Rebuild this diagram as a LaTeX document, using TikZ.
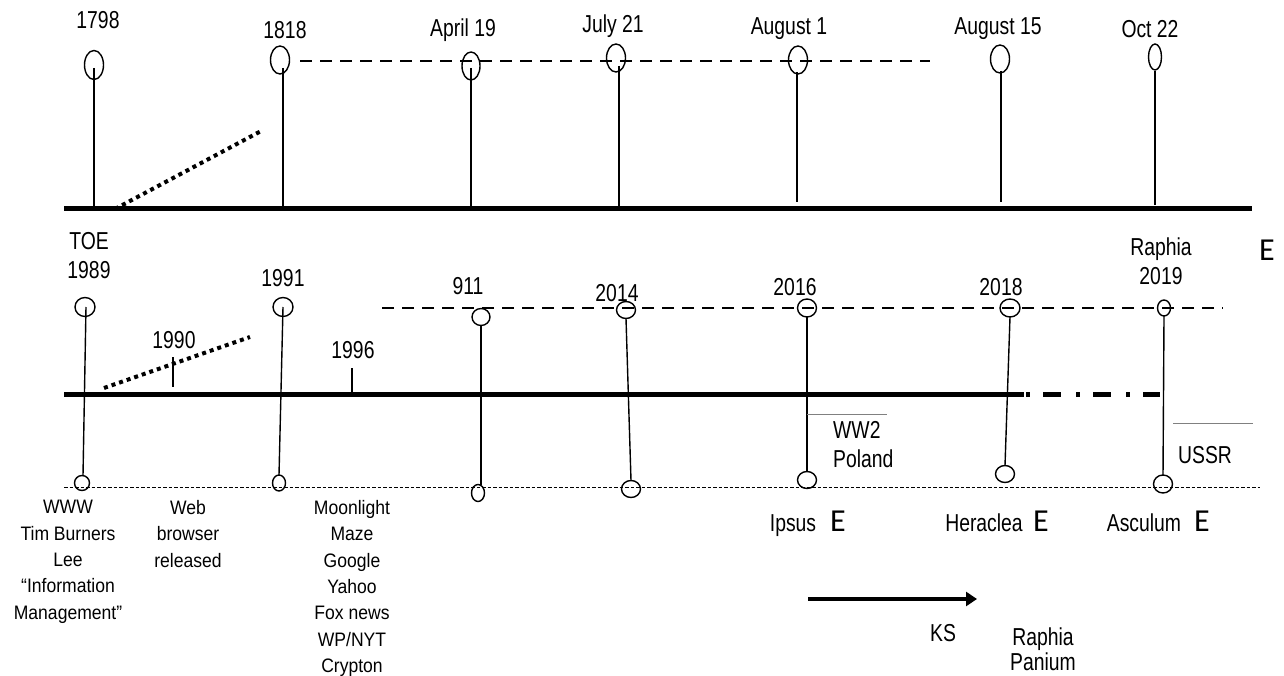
\documentclass[tikz,border=0pt]{standalone}
\usepackage{fontspec}
\setmainfont{Liberation Sans}
\newfontfamily\labfont{Liberation Sans}[FakeStretch=0.79]
\newfontfamily\smallfont{Liberation Sans}[FakeStretch=0.9]
\newfontfamily\efont{Carlito}
\usetikzlibrary{shapes.geometric,arrows.meta}
\tikzset{
  lab/.style={font=\labfont\fontsize{24.5}{29}\selectfont, inner sep=0pt, anchor=base},
  lab2/.style={font=\labfont\fontsize{24.5}{29}\selectfont, inner sep=0pt, align=center, anchor=south},
  small/.style={font=\smallfont\fontsize{19.5}{26.4}\selectfont, inner sep=0pt, align=center, anchor=north},
  bigE/.style={font=\efont\fontsize{32}{36}\selectfont, inner sep=0pt, anchor=base},
  bulb/.style 2 args={ellipse, draw, line width=1.4pt, inner sep=0pt, outer sep=0pt, minimum width=#1, minimum height=#2},
  stem/.style={line width=1.4pt},
  axis/.style={line width=5pt},
  dashdotaxis/.style={line width=5pt, dash pattern=on 4pt off 13pt on 18pt off 15pt},
  dotline/.style={line width=4pt, dash pattern=on 4pt off 4pt},
  dashline/.style={line width=1.5pt, dash pattern=on 12pt off 8pt},
  baseline/.style={line width=0.9pt, dash pattern=on 3.5pt off 2pt},
  grayline/.style={line width=1pt, gray},
  tick/.style={line width=1.2pt}
}
\begin{document}
\begin{tikzpicture}[x=1pt,y=-1pt]
\path[use as bounding box] (0,0) rectangle (1284,676);

% ---------------- top timeline ----------------
\coordinate (tL) at (64,209);
\coordinate (tR) at (1252,209);
\draw[axis] (tL) -- (tR);

\coordinate (tdA) at (115,209);
\coordinate (tdB) at (263,130);
\draw[dotline] (tdA) -- (tdB);

\coordinate (tdashA) at (300,61);
\coordinate (tdashB) at (930,61);
\draw[dashline] (tdashA) -- (tdashB);

\node[bulb={19pt}{29pt}] (e1798) at (94,65) {};
\node[bulb={19pt}{28pt}] (e1818) at (280,60) {};
\node[bulb={18pt}{28pt}] (eApr) at (471,66) {};
\node[bulb={19pt}{28pt}] (eJul) at (616,58) {};
\node[bulb={19pt}{28pt}] (eAugA) at (798,60) {};
\node[bulb={19pt}{28pt}] (eAugB) at (1000,59) {};
\node[bulb={13pt}{26pt}] (eOct) at (1155,57) {};

\coordinate (a1798) at (94,209);
\coordinate (a1818) at (283,209);
\coordinate (aApr) at (471,209);
\coordinate (aJul) at (619,209);
\coordinate (aAugA) at (797,202);
\coordinate (aAugB) at (1001,202);
\coordinate (aOct) at (1155,205);

\draw[stem, shorten <=3pt] (e1798.center) -- (a1798);
\draw[stem, shorten <=8pt] ([xshift=3pt]e1818.center) -- (a1818);
\draw[stem, shorten <=2pt] (eApr.center) -- (aApr);
\draw[stem, shorten <=8pt] ([xshift=3pt]eJul.center) -- (aJul);
\draw[stem, shorten <=12pt] ([xshift=-1pt]eAugA.center) -- (aAugA);
\draw[stem, shorten <=12pt] ([xshift=1pt]eAugB.center) -- (aAugB);
\draw[stem, shorten <=14pt] (eOct.center) -- (aOct);

\node[lab] (l1798) at (98,29) {1798};
\node[lab] (l1818) at (285,39) {1818};
\node[lab] (lApr) at (463,37) {April 19};
\node[lab] (lJul) at (613,33) {July 21};
\node[lab] (lAugA) at (789,35) {August 1};
\node[lab] (lAugB) at (998,35) {August 15};
\node[lab] (lOct) at (1150,38) {Oct 22};

% ---------------- middle timeline ----------------
\coordinate (mL) at (64,394);
\coordinate (mM) at (1024,394);
\coordinate (mD) at (1026,394);
\coordinate (mR) at (1160,394);
\draw[axis] (mL) -- (mM);
\draw[dashdotaxis] (mD) -- (mR);

\coordinate (mdA) at (104,388);
\coordinate (mdB) at (250,337);
\draw[dotline] (mdA) -- (mdB);

\coordinate (mdashA) at (382,308);
\coordinate (mdashB) at (1223,308);
\draw[dashline] (mdashA) -- (mdashB);

\coordinate (bL) at (64,487);
\coordinate (bR) at (1260,487);
\draw[baseline] (bL) -- (bR);

% ticks
\coordinate (t90a) at (173,357);
\coordinate (t90b) at (173,387);
\draw[tick] (t90a) -- (t90b);
\coordinate (t96a) at (352,368);
\coordinate (t96b) at (352,394);
\draw[tick] (t96a) -- (t96b);

% top circles
\node[bulb={20pt}{19pt}] (m1989) at (85,307) {};
\node[bulb={20pt}{19pt}] (m1991) at (283,307) {};
\node[bulb={18pt}{17pt}] (m911) at (481,317) {};
\node[bulb={19pt}{17pt}] (m2014) at (626,310) {};
\node[bulb={19pt}{18pt}] (m2016) at (807,308) {};
\node[bulb={20pt}{18pt}] (m2018) at (1010,308) {};
\node[bulb={13pt}{16pt}] (m2019) at (1164,308) {};

% bottom circles
\node[bulb={15pt}{15pt}] (b1989) at (82,483) {};
\node[bulb={13pt}{16pt}] (b1991) at (279,483) {};
\node[bulb={13pt}{17pt}] (b911) at (478,493) {};
\node[bulb={19pt}{17pt}] (b2014) at (631,489) {};
\node[bulb={19pt}{17pt}] (b2016) at (807,480) {};
\node[bulb={19pt}{17pt}] (b2018) at (1005,474) {};
\node[bulb={19pt}{18pt}] (b2019) at (1163,484) {};

\draw[stem] ([xshift=1pt]m1989.center) -- ([xshift=1pt]b1989.north);
\draw[stem] (m1991.center) -- (b1991.north);
\draw[stem] (m911.south) -- ([xshift=3pt]b911.north);
\draw[stem] (m2014.south) -- (b2014.north);
\draw[stem] (m2016.south) -- (b2016.north);
\draw[stem] (m2018.south) -- (b2018.north);
\draw[stem] (m2019.south) -- (b2019.north);

% gray side lines
\coordinate (ww2a) at (807,414);
\coordinate (ww2b) at (887,414);
\draw[grayline] (ww2a) -- (ww2b);
\coordinate (ussra) at (1173,423);
\coordinate (ussrb) at (1253,423);
\draw[grayline] (ussra) -- (ussrb);

% middle labels
\node[lab2] (l1989) at (89,279.3) {TOE\\1989};
\node[lab] (l1991) at (283,287) {1991};
\node[lab] (l1990) at (174,348) {1990};
\node[lab] (l1996) at (353,358) {1996};
\node[lab] (l911) at (468,294) {911};
\node[lab] (l2014) at (617,301) {2014};
\node[lab] (l2016) at (795,295) {2016};
\node[lab] (l2018) at (1001,295) {2018};
\node[lab2] (l2019) at (1161,285) {Raphia\\2019};
\node[bigE] (eTop) at (1267,261) {E};
\node[lab2, align=left, anchor=south west] (lww2) at (833,468) {WW2\\Poland};
\node[lab] (lussr) at (1205,463) {USSR};

% bottom texts
\node[small] (tWWW) at (68,500) {WWW\\Tim Burners\\Lee\\“Information\\Management”};
\node[small] (tWeb) at (188,500) {Web\\browser\\released};
\node[small] (tMoon) at (352,500) {Moonlight\\Maze\\Google\\Yahoo\\Fox news\\WP/NYT\\Crypton};

\node[lab] (lIpsus) at (793,531) {Ipsus};
\node[bigE] (eIpsus) at (838,531) {E};
\node[lab] (lHer) at (984,531) {Heraclea};
\node[bigE] (eHer) at (1041,531) {E};
\node[lab] (lAsc) at (1144,531) {Asculum};
\node[bigE] (eAsc) at (1202,531) {E};

\coordinate (arrA) at (808,599);
\coordinate (arrB) at (977,599);
\draw[line width=4pt, -{Triangle[length=11pt,width=14pt]}] (arrA) -- (arrB);

\node[lab] (lKS) at (943,641) {KS};
\node[lab2, font=\labfont\fontsize{24.5}{25.5}\selectfont] (lRaph) at (1043,671) {Raphia\\Panium};
\end{tikzpicture}
\end{document}
